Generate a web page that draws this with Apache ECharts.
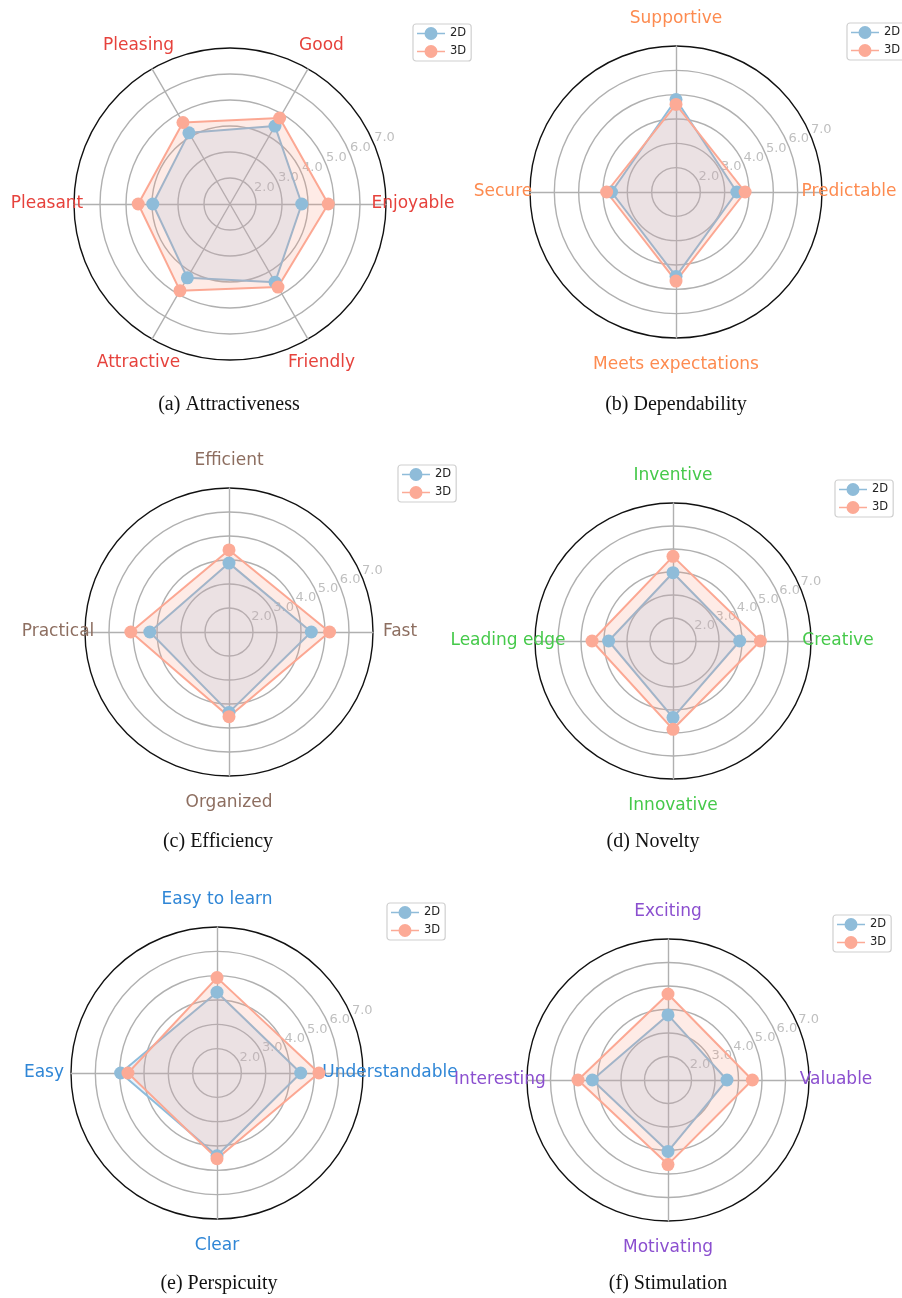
<!DOCTYPE html>
<html><head><meta charset="utf-8">
<script src="https://cdn.jsdelivr.net/npm/echarts@6.0.0/dist/echarts.min.js"></script>
<style>html,body{margin:0;padding:0;background:#fff}#c{width:902px;height:1298px}</style>
</head><body><div id="c"></div>
<script>
// ---- data ----
const seriesNames = ['2D', '3D'];
const tickLabels = ['2.0', '3.0', '4.0', '5.0', '6.0', '7.0'];
const scaleMin = 1, scaleMax = 7;
const captions = ['(a) Attractiveness', '(b) Dependability', '(c) Efficiency', '(d) Novelty', '(e) Perspicuity', '(f) Stimulation'];

const attrCats = ['Enjoyable', 'Good', 'Pleasing', 'Pleasant', 'Attractive', 'Friendly'];
const attr2D = [3.76, 4.46, 4.16, 3.97, 4.28, 4.47];
const attr3D = [4.78, 4.82, 4.62, 4.53, 4.85, 4.69];

const depCats = ['Predictable', 'Supportive', 'Secure', 'Meets expectations'];
const dep2D = [3.50, 4.80, 3.65, 4.47];
const dep3D = [3.84, 4.60, 3.85, 4.66];

const effCats = ['Fast', 'Efficient', 'Practical', 'Organized'];
const eff2D = [4.43, 3.87, 4.30, 4.35];
const eff3D = [5.19, 4.42, 5.09, 4.53];

const novCats = ['Creative', 'Inventive', 'Leading edge', 'Innovative'];
const nov2D = [3.90, 3.97, 3.80, 4.33];
const nov3D = [4.80, 4.68, 4.52, 4.84];

const perCats = ['Understandable', 'Easy to learn', 'Easy', 'Clear'];
const per2D = [4.44, 4.32, 4.96, 4.40];
const per3D = [5.19, 4.92, 4.66, 4.52];

const stiCats = ['Valuable', 'Exciting', 'Interesting', 'Motivating'];
const sti2D = [3.51, 3.77, 4.22, 4.04];
const sti3D = [4.59, 4.66, 4.83, 4.60];

// ---- layout / style ----
const panels = [
  {caption: captions[0], cats: attrCats, v2: attr2D, v3: attr3D, color: '#e6423c', cx: 230, cy: 204, r: 156, lg: [413, 24], cap: [229, 395]},
  {caption: captions[1], cats: depCats, v2: dep2D, v3: dep3D, color: '#fd8b50', cx: 676, cy: 192, r: 146, lg: [847, 23], cap: [676, 395]},
  {caption: captions[2], cats: effCats, v2: eff2D, v3: eff3D, color: '#8d6e60', cx: 229, cy: 632, r: 144, lg: [398, 465], cap: [218, 832]},
  {caption: captions[3], cats: novCats, v2: nov2D, v3: nov3D, color: '#45c94a', cx: 673, cy: 641, r: 138, lg: [835, 480], cap: [653, 832]},
  {caption: captions[4], cats: perCats, v2: per2D, v3: per3D, color: '#2f86d6', cx: 217, cy: 1073, r: 146, lg: [387, 903], cap: [219, 1274]},
  {caption: captions[5], cats: stiCats, v2: sti2D, v3: sti3D, color: '#8b4fcf', cx: 668, cy: 1080, r: 141, lg: [833, 915], cap: [668, 1274]}
];

const C2 = '#8fbcd9', C3 = '#fcaa96';
const F2 = 'rgba(134,190,240,0.27)', F3 = 'rgba(250,150,120,0.27)';
const grid = '#b0b0b0';
const iconPath = 'path://M0,5.8H28V7.2H0Z M14,0A6.5,6.5 0 1 1 13.99,0Z';

const chart = echarts.init(document.getElementById('c'), null, {renderer: 'canvas'});
const option = {
  animation: false,
  backgroundColor: '#fff',
  textStyle: {fontFamily: 'DejaVu Sans'},
  title: panels.map(p => ({
    text: p.caption, left: p.cap[0], top: p.cap[1], textAlign: 'center', padding: 0,
    textStyle: {fontFamily: 'Liberation Serif', fontSize: 20, fontWeight: 'normal', color: '#111'}
  })),
  legend: panels.map(p => ({
    data: seriesNames, orient: 'vertical', left: p.lg[0], top: p.lg[1],
    itemWidth: 28, itemHeight: 13, itemGap: 5, padding: [3, 5, 3, 4],
    borderColor: '#d0d0d0', borderWidth: 1.2, borderRadius: 3, backgroundColor: '#fff',
    icon: iconPath, selectedMode: false,
    textStyle: {fontSize: 11.5, color: '#222', fontFamily: 'DejaVu Sans'}
  })),
  radar: panels.map(p => ({
    center: [p.cx, p.cy], radius: p.r, startAngle: 0, shape: 'circle', splitNumber: 6,
    indicator: p.cats.map(n => ({name: n, min: scaleMin, max: scaleMax, color: p.color})),
    nameGap: 27,
    axisName: {fontSize: 17, fontFamily: 'DejaVu Sans', align: 'center', verticalAlign: 'middle'},
    splitLine: {lineStyle: {color: [grid, grid, grid, grid, grid, grid, '#111'], width: 1.4}},
    splitArea: {show: false},
    axisLine: {lineStyle: {color: grid, width: 1.4}},
    axisTick: {show: false},
    axisLabel: {show: false}
  })),
  polar: panels.map(p => ({center: [p.cx, p.cy], radius: p.r})),
  angleAxis: panels.map((p, i) => ({
    polarIndex: i, type: 'value', min: 0, max: 360, startAngle: 22.5,
    axisLine: {show: false}, axisTick: {show: false}, axisLabel: {show: false}, splitLine: {show: false}
  })),
  radiusAxis: panels.map((p, i) => ({
    polarIndex: i, type: 'value', min: scaleMin, max: scaleMax, interval: 1,
    axisLine: {show: false}, axisTick: {show: false}, splitLine: {show: false},
    axisLabel: {
      margin: 0, align: 'left', verticalAlign: 'bottom', color: '#bfbfbf', fontSize: 13,
      fontFamily: 'DejaVu Sans', showMinLabel: false, hideOverlap: false,
      formatter: v => (v >= 2 ? tickLabels[Math.round(v) - 2] : '')
    }
  })),
  series: panels.map((p, i) => ({
    type: 'radar', radarIndex: i, symbol: 'circle', symbolSize: 13,
    data: [
      {name: seriesNames[0], value: p.v2, itemStyle: {color: C2}, lineStyle: {color: C2, width: 2}, areaStyle: {color: F2}},
      {name: seriesNames[1], value: p.v3, itemStyle: {color: C3}, lineStyle: {color: C3, width: 2}, areaStyle: {color: F3}}
    ]
  }))
};
chart.setOption(option);
</script>
</body></html>
